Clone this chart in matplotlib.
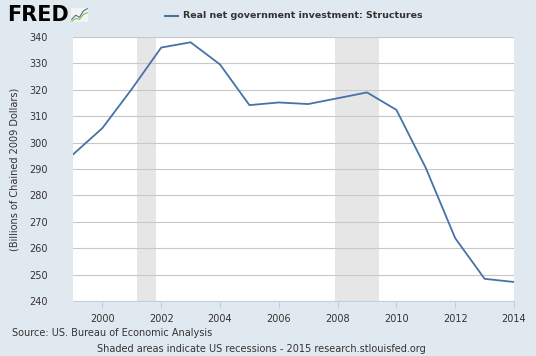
import matplotlib
matplotlib.use("Agg")
import matplotlib.pyplot as plt
from matplotlib.ticker import MultipleLocator

# annual values, billions of chained 2009 dollars
years = [1999, 2000, 2001, 2002, 2003, 2004, 2005, 2006, 2007,
         2008, 2009, 2010, 2011, 2012, 2013, 2014]
values = [295.5, 305.5, 320.3, 336.0, 338.0, 329.6, 314.2, 315.2, 314.6,
          316.8, 319.0, 312.4, 290.4, 263.8, 248.4, 247.2]
recessions = [(2001.17, 2001.83), (2007.92, 2009.42)]
xticks = [2000, 2002, 2004, 2006, 2008, 2010, 2012, 2014]

BG = "#e1e9f0"
LINE = "#4572a7"
TXT = "#333333"

fig = plt.figure(figsize=(5.36, 3.56), dpi=100, facecolor=BG)
ax = fig.add_axes([73 / 536, 55 / 356, 441 / 536, 264 / 356])
ax.set_facecolor("white")

for a, b in recessions:
    ax.axvspan(a, b, color="#e6e6e6", lw=0, zorder=0)

ax.plot(years, values, color=LINE, lw=1.3, zorder=3)

ax.set_xlim(1999, 2014)
ax.set_ylim(240, 340)
ax.yaxis.set_major_locator(MultipleLocator(10))
ax.set_xticks(xticks)
ax.grid(axis="y", color="#c8c8c8", lw=0.8, zorder=1)
for s in ["top", "right", "left"]:
    ax.spines[s].set_visible(False)
ax.spines["bottom"].set_color("#c0d0e0")
ax.tick_params(axis="y", length=0, labelsize=7, labelcolor=TXT, pad=18)
ax.tick_params(axis="x", length=5, color="#c0d0e0", labelsize=7,
               labelcolor=TXT, pad=4)
ax.set_ylabel("(Billions of Chained 2009 Dollars)", fontsize=7, color=TXT,
              labelpad=7)

# header
fig.text(7 / 536, 1 - 15 / 356, "FRED", fontsize=15, fontweight="heavy",
         color="black", va="center", ha="left")
icon = fig.add_axes([71 / 536, 1 - 22 / 356, 17 / 536, 14 / 356])
icon.set_facecolor("#f4f4f4")
icon.plot([0, 1, 2, 3, 4], [1, 2, 1.5, 3, 3.6], color="#4572a7", lw=0.8)
icon.plot([0, 1, 2, 3, 4], [0.5, 1.2, 1.0, 2.2, 2.6], color="#8cbf3f", lw=0.8)
icon.set_xticks([])
icon.set_yticks([])
for s in icon.spines.values():
    s.set_visible(False)

fig.add_artist(plt.Line2D([165 / 536, 178 / 536], [1 - 16 / 356, 1 - 16 / 356],
                          color=LINE, lw=1.5))
fig.text(183 / 536, 1 - 16 / 356, "Real net government investment: Structures",
         fontsize=6.8, fontweight="bold", color=TXT, va="center", ha="left")

# footer
fig.text(12 / 536, 1 - 333 / 356, "Source: US. Bureau of Economic Analysis",
         fontsize=7, color=TXT, va="center", ha="left")
fig.text(97 / 536, 1 - 349 / 356,
         "Shaded areas indicate US recessions - 2015 research.stlouisfed.org",
         fontsize=7, color=TXT, va="center", ha="left")

fig.savefig("out.png", dpi=100, facecolor=BG)
